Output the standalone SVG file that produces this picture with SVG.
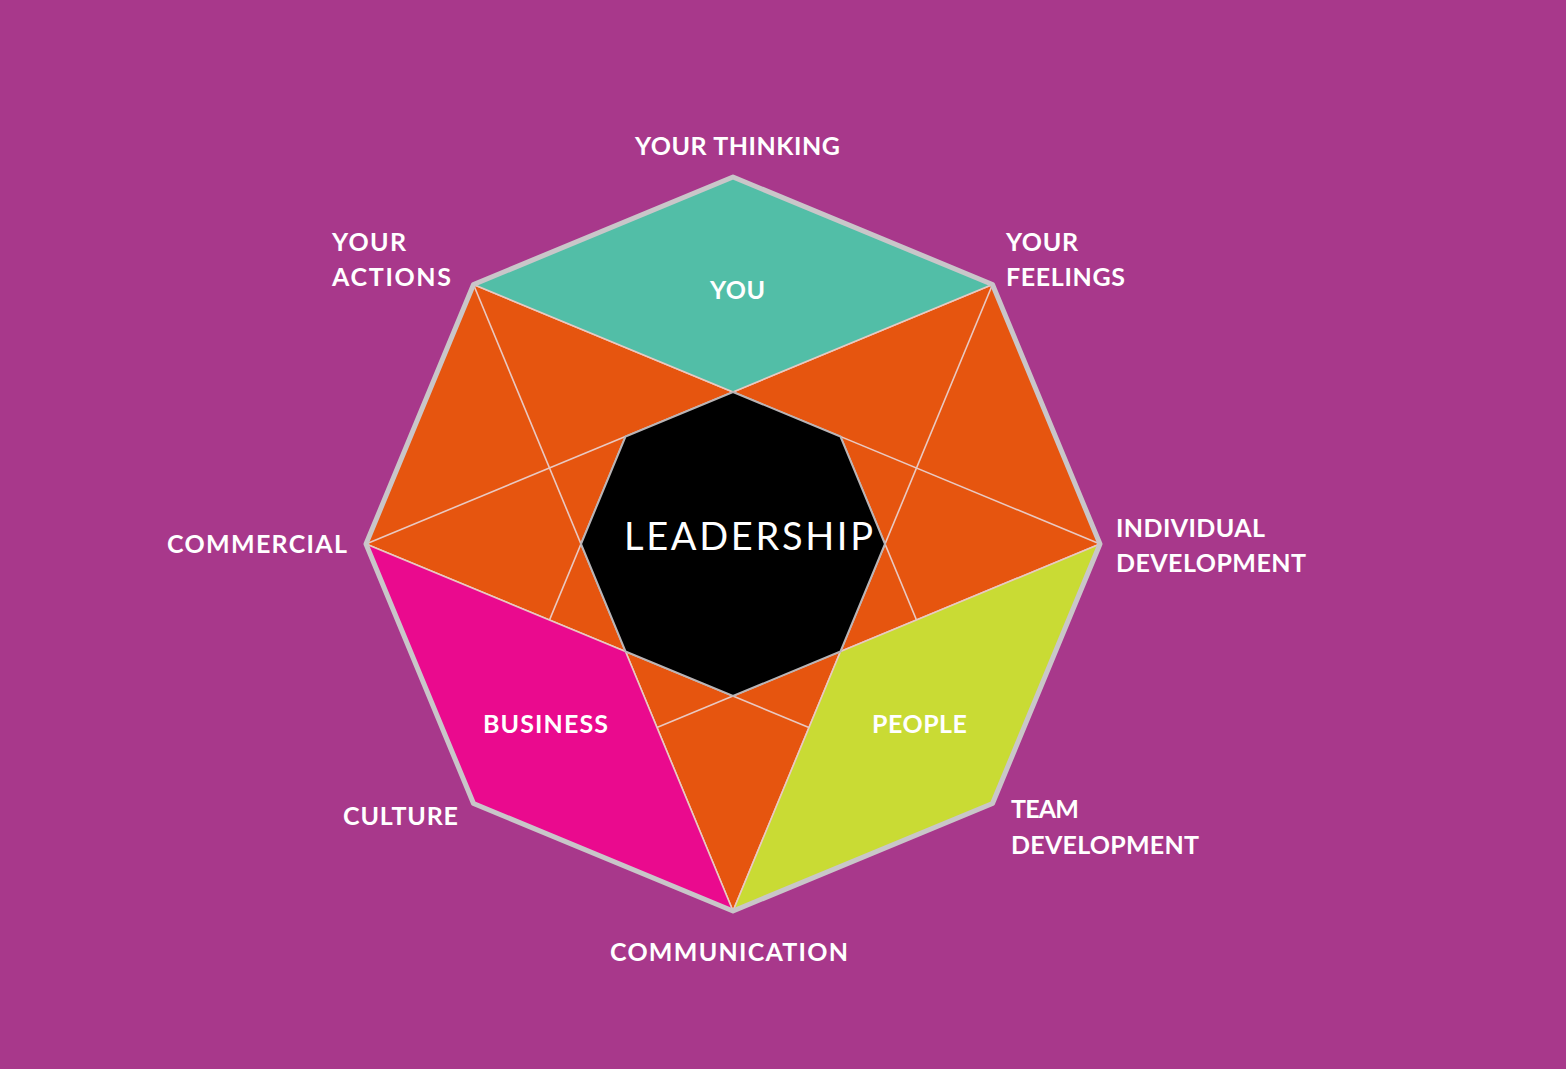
<svg xmlns="http://www.w3.org/2000/svg" width="1566" height="1069" viewBox="0 0 1566 1069">
<style>
.lbl{font-family:Lato,"Open Sans","Liberation Sans",sans-serif;font-weight:700;font-size:25px;fill:#ffffff}
.star{stroke:#e9c9c2;stroke-width:1.6;fill:none}
.edge{stroke:#e9c9c2;stroke-width:1.6;stroke-linejoin:round}
.outer{stroke:#c9c6c9;stroke-width:5;fill:none;stroke-linejoin:round}
</style>
<rect width="1566" height="1069" fill="#a8388b"/>
<g id="octagon-base">
<polygon points="733,177 992.5,284.5 1100,544 992.5,803.5 733,911 473.5,803.5 366,544 473.5,284.5" fill="#e6550f"/>
</g>
<g id="connectors">
<line class="star" x1="840.5" y1="436.5" x2="992.5" y2="803.5"/>
<line class="star" x1="992.5" y1="284.5" x2="733" y2="911"/>
<line class="star" x1="1100" y1="544" x2="473.5" y2="803.5"/>
<line class="star" x1="992.5" y1="803.5" x2="366" y2="544"/>
<line class="star" x1="733" y1="911" x2="473.5" y2="284.5"/>
<line class="star" x1="473.5" y1="803.5" x2="625.5" y2="436.5"/>
<line class="star" x1="366" y1="544" x2="992.5" y2="284.5"/>
<line class="star" x1="473.5" y1="284.5" x2="1100" y2="544"/>
</g>
<g id="node-you">
<polygon class="edge" points="733,177 992.5,284.5 733,392 473.5,284.5" fill="#52bea7"/>
<text class="lbl" x="710" y="299" textLength="55">YOU</text>
</g>
<g id="node-people">
<polygon class="edge" points="1100,544 992.5,803.5 733,911 840.5,651.5" fill="#c9db34"/>
<text class="lbl" x="872" y="733" textLength="95">PEOPLE</text>
</g>
<g id="node-business">
<polygon class="edge" points="366,544 625.5,651.5 733,911 473.5,803.5" fill="#ea0a8e"/>
<text class="lbl" x="483" y="733" textLength="125">BUSINESS</text>
</g>
<g id="node-leadership">
<polygon points="733,392 840.5,436.5 885,544 840.5,651.5 733,696 625.5,651.5 581,544 625.5,436.5" fill="#000000" stroke="#b9b4b6" stroke-width="2"/>
<text x="624" y="550" font-family="Lato,'Open Sans','Liberation Sans',sans-serif" font-weight="400" font-size="38" fill="#ffffff" textLength="249">LEADERSHIP</text>
</g>
<g id="outline">
<polygon class="outer" points="733,177 992.5,284.5 1100,544 992.5,803.5 733,911 473.5,803.5 366,544 473.5,284.5"/>
</g>
<g id="label-your-thinking"><text class="lbl" x="635" y="155" textLength="205">YOUR THINKING</text></g>
<g id="label-your-actions"><text class="lbl" x="332" y="251" textLength="74">YOUR</text><text class="lbl" x="332" y="286" textLength="119">ACTIONS</text></g>
<g id="label-your-feelings"><text class="lbl" x="1006" y="251" textLength="72">YOUR</text><text class="lbl" x="1006" y="286" textLength="119">FEELINGS</text></g>
<g id="label-commercial"><text class="lbl" x="167" y="553" textLength="180">COMMERCIAL</text></g>
<g id="label-individual-development"><text class="lbl" x="1116" y="537" textLength="149">INDIVIDUAL</text><text class="lbl" x="1116" y="572" textLength="190">DEVELOPMENT</text></g>
<g id="label-culture"><text class="lbl" x="343" y="825" textLength="115">CULTURE</text></g>
<g id="label-team-development"><text class="lbl" x="1011" y="818" textLength="68">TEAM</text><text class="lbl" x="1011" y="854" textLength="188">DEVELOPMENT</text></g>
<g id="label-communication"><text class="lbl" x="610" y="961" textLength="238">COMMUNICATION</text></g>
</svg>
